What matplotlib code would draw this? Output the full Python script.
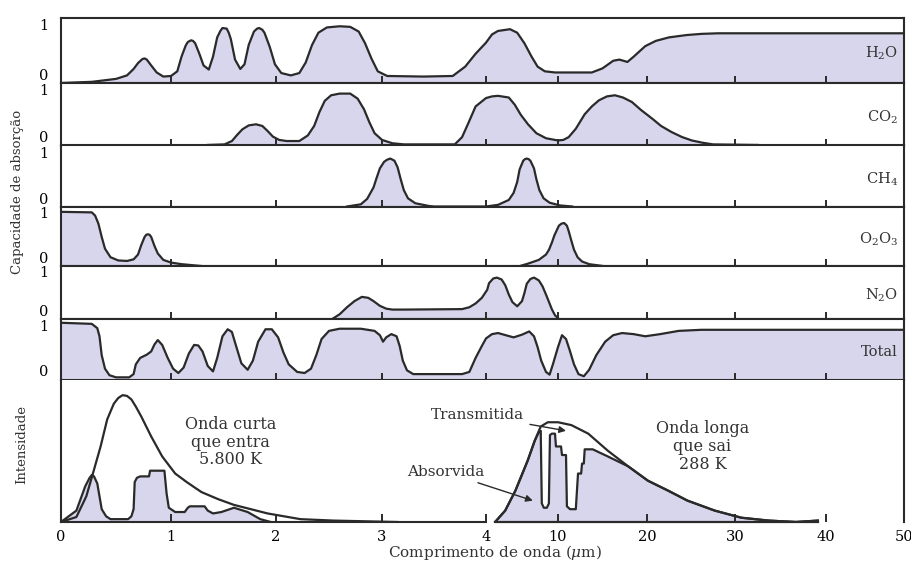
import numpy as np
import matplotlib
matplotlib.use('Agg')
import matplotlib.pyplot as plt

# ---------------- data (wavelength in micrometres, absorption 0..1) ----------------
h2o_wl = [0.00, 0.28, 0.50, 0.60, 0.66, 0.70, 0.74, 0.76, 0.78, 0.82, 0.87, 0.93, 1.00, 1.06, 1.10, 1.14,
          1.16, 1.19, 1.21, 1.23, 1.27, 1.31, 1.36, 1.40, 1.44, 1.47, 1.49, 1.53, 1.55, 1.57, 1.61, 1.66,
          1.70, 1.74, 1.79, 1.82, 1.84, 1.87, 1.89, 1.94, 1.99, 2.05, 2.14, 2.22, 2.28, 2.34, 2.40,
          2.48, 2.60, 2.70, 2.78, 2.84, 2.90, 2.96, 3.05, 3.40, 3.68, 3.80, 3.90, 4.00, 4.5, 5.0,
          6.0, 6.6, 7.2, 7.8, 8.3, 8.9, 9.75, 13.8, 15.0, 16.2, 16.9, 17.8, 18.5, 19.8, 21.0, 22.5,
          24.5, 26.2, 28.1, 50.0]
h2o_abs = [0.00, 0.02, 0.07, 0.13, 0.24, 0.34, 0.41, 0.42, 0.40, 0.30, 0.18, 0.11, 0.12, 0.20, 0.45, 0.64,
           0.70, 0.73, 0.72, 0.68, 0.50, 0.30, 0.23, 0.45, 0.78, 0.89, 0.94, 0.93, 0.86, 0.75, 0.40, 0.24,
           0.32, 0.65, 0.88, 0.93, 0.94, 0.91, 0.86, 0.62, 0.32, 0.17, 0.13, 0.17, 0.35, 0.65, 0.86,
           0.95, 0.97, 0.96, 0.88, 0.68, 0.42, 0.20, 0.12, 0.11, 0.12, 0.28, 0.50, 0.69, 0.83, 0.89,
           0.92, 0.86, 0.68, 0.45, 0.28, 0.20, 0.18, 0.18, 0.25, 0.38, 0.40, 0.36, 0.45, 0.63, 0.72, 0.78,
           0.82, 0.84, 0.85, 0.85]

co2_wl = [1.35, 1.51, 1.58, 1.63, 1.68, 1.74, 1.81, 1.87, 1.92, 1.97, 2.03, 2.10, 2.22, 2.30, 2.36,
          2.41, 2.46, 2.52, 2.60, 2.70, 2.77, 2.83, 2.88, 2.93, 3.00, 3.10, 3.21, 3.70, 3.77, 3.83,
          3.90, 4.00, 4.5, 5.0, 5.9, 6.4, 6.9, 7.5, 8.2, 9.0, 10.0, 10.6, 11.2, 12.0, 13.0, 13.8,
          14.6, 15.5, 16.4, 17.3, 18.3, 19.3, 20.6, 21.6, 22.8, 24.0, 25.1, 26.3, 27.5, 32.5]
co2_abs = [0.01, 0.02, 0.08, 0.19, 0.29, 0.36, 0.38, 0.35, 0.26, 0.16, 0.10, 0.08, 0.08, 0.18, 0.35,
           0.60, 0.80, 0.90, 0.93, 0.93, 0.84, 0.65, 0.42, 0.22, 0.10, 0.04, 0.02, 0.02, 0.15, 0.40,
           0.70, 0.85, 0.88, 0.89, 0.86, 0.73, 0.55, 0.38, 0.22, 0.13, 0.09, 0.10, 0.15, 0.30, 0.56, 0.70,
           0.81, 0.88, 0.90, 0.86, 0.78, 0.64, 0.48, 0.35, 0.24, 0.15, 0.09, 0.05, 0.02, 0.01]

ch4_wl = [2.67, 2.80, 2.86, 2.92, 2.95, 2.98, 3.02, 3.05, 3.08, 3.12, 3.15, 3.18, 3.21, 3.25, 3.32, 3.45,
          3.50, 4.0, 5.0, 5.9, 6.3, 6.6, 6.8, 7.1, 7.25, 7.4, 7.55, 7.7, 8.0, 8.2, 8.45, 8.8, 9.3,
          10.2, 11.6]
ch4_abs = [0.00, 0.04, 0.14, 0.35, 0.53, 0.70, 0.82, 0.86, 0.88, 0.84, 0.72, 0.50, 0.30, 0.15, 0.06, 0.01,
           0.00, 0.00, 0.03, 0.12, 0.25, 0.45, 0.68, 0.84, 0.87, 0.88, 0.87, 0.84, 0.70, 0.50, 0.30, 0.15,
           0.07, 0.02, 0.00]

o3_wl = [0.00, 0.28, 0.31, 0.34, 0.37, 0.40, 0.45, 0.52, 0.60, 0.66, 0.70, 0.73, 0.76, 0.775, 0.79,
         0.805, 0.82, 0.85, 0.88, 0.93, 1.00, 1.10, 1.32, 6.75, 7.5, 8.4, 9.0, 9.25, 9.5, 9.7, 10.1,
         10.4, 10.7, 11.0, 11.2, 11.5, 11.8, 12.2, 12.7, 13.5, 15.3]
o3_abs = [1.02, 1.01, 0.95, 0.80, 0.55, 0.33, 0.17, 0.11, 0.10, 0.13, 0.22, 0.40, 0.55, 0.59, 0.60,
          0.59, 0.55, 0.38, 0.24, 0.12, 0.07, 0.04, 0.00, 0.00, 0.05, 0.12, 0.22, 0.31, 0.45, 0.58, 0.76,
          0.80, 0.81, 0.76, 0.66, 0.48, 0.31, 0.17, 0.09, 0.04, 0.00]

n2o_wl = [2.53, 2.60, 2.67, 2.74, 2.81, 2.87, 2.92, 2.98, 3.04, 3.10, 3.21, 3.77, 3.84, 3.90, 3.96,
          4.1, 4.25, 4.6, 4.9, 5.3, 5.6, 5.9, 6.2, 6.6, 7.0, 7.2, 7.4, 7.7, 8.0, 8.4, 8.7, 9.0,
          9.25, 9.5, 9.75, 10.1]
n2o_abs = [0.00, 0.10, 0.25, 0.38, 0.47, 0.45, 0.38, 0.28, 0.22, 0.20, 0.20, 0.21, 0.25, 0.33, 0.45,
           0.62, 0.76, 0.86, 0.88, 0.84, 0.72, 0.52, 0.36, 0.27, 0.38, 0.55, 0.75, 0.85, 0.88, 0.82, 0.70, 0.52,
           0.36, 0.20, 0.08, 0.00]

tot_wl = [0.00, 0.28, 0.33, 0.35, 0.37, 0.40, 0.44, 0.50, 0.62, 0.66, 0.68, 0.72, 0.78, 0.82, 0.85,
          0.88, 0.92, 0.97, 1.02, 1.07, 1.12, 1.17, 1.22, 1.26, 1.30, 1.35, 1.40, 1.44, 1.49, 1.54,
          1.58, 1.62, 1.67, 1.73, 1.78, 1.83, 1.90, 1.96, 2.02, 2.07, 2.12, 2.20, 2.27, 2.33, 2.38,
          2.43, 2.50, 2.60, 2.80, 2.93, 2.98, 3.01, 3.04, 3.09, 3.14, 3.17, 3.20, 3.24, 3.30, 3.77,
          3.84, 3.90, 3.96, 4.0, 4.5, 5.0, 6.3, 7.0, 7.6, 8.0, 8.3, 8.6, 9.0, 9.3, 9.6, 10.0, 10.45,
          10.9, 11.3, 11.8, 12.3, 12.9, 13.5, 14.3, 15.3, 16.2, 17.2, 18.5, 19.8, 21.5, 23.6, 26.2, 50.0]
tot_abs = [1.05, 1.03, 0.95, 0.80, 0.45, 0.20, 0.08, 0.04, 0.04, 0.10, 0.28, 0.40, 0.46, 0.52, 0.65,
           0.73, 0.64, 0.40, 0.20, 0.12, 0.22, 0.48, 0.64, 0.63, 0.52, 0.25, 0.15, 0.40, 0.80, 0.93,
           0.88, 0.62, 0.30, 0.18, 0.35, 0.70, 0.93, 0.93, 0.78, 0.50, 0.28, 0.14, 0.12, 0.20, 0.45,
           0.75, 0.90, 0.94, 0.94, 0.90, 0.82, 0.70, 0.78, 0.84, 0.80, 0.62, 0.35, 0.17, 0.10, 0.10,
           0.14, 0.40, 0.62, 0.76, 0.84, 0.86, 0.78, 0.83, 0.89, 0.80, 0.60, 0.35, 0.14, 0.09, 0.30, 0.60, 0.82,
           0.75, 0.55, 0.28, 0.10, 0.06, 0.18, 0.45, 0.70, 0.82, 0.86, 0.84, 0.80, 0.84, 0.90, 0.92, 0.92]

# bottom panel: relative intensity
sun_wl = [0.00, 0.14, 0.23, 0.29, 0.36, 0.42, 0.48, 0.52, 0.56, 0.60, 0.64, 0.68, 0.73, 0.82, 0.92,
          1.04, 1.15, 1.29, 1.45, 1.60, 1.92, 2.23, 2.54, 3.15]
sun_int = [0.00, 0.035, 0.18, 0.34, 0.53, 0.72, 0.83, 0.87, 0.89, 0.885, 0.86, 0.81, 0.74, 0.60, 0.46,
           0.34, 0.28, 0.21, 0.16, 0.12, 0.06, 0.02, 0.01, 0.00]
sun_in_wl = [0.00, 0.14, 0.22, 0.26, 0.28, 0.30, 0.33, 0.37, 0.41, 0.45, 0.61, 0.64, 0.66, 0.67, 0.69,
             0.72, 0.80, 0.81, 0.94, 0.96, 0.98, 1.04, 1.13, 1.16, 1.18, 1.32, 1.35, 1.40, 1.48, 1.60,
             1.73, 1.85, 1.95]
sun_in = [0.00, 0.08, 0.25, 0.31, 0.33, 0.32, 0.27, 0.09, 0.04, 0.02, 0.02, 0.04, 0.09, 0.28, 0.31,
          0.32, 0.32, 0.36, 0.36, 0.20, 0.10, 0.07, 0.07, 0.10, 0.11, 0.11, 0.08, 0.06, 0.07, 0.10,
          0.07, 0.02, 0.00]
earth_wl = [4.76, 5.6, 6.45, 7.47, 8.06, 8.56, 9.15, 10.0, 11.5, 13.4, 15.6, 17.9, 19.0, 20.1, 22.4,
            24.6, 27.7, 30.7, 33.7, 36.7, 39.1]
earth_int = [0.00, 0.08, 0.22, 0.43, 0.57, 0.67, 0.70, 0.70, 0.68, 0.62, 0.50, 0.39, 0.34, 0.29, 0.22,
             0.15, 0.08, 0.03, 0.01, 0.00, 0.01]
earth_in_wl = [4.76, 5.6, 6.45, 7.47, 8.06, 8.4, 8.56, 8.65, 8.82, 9.07, 9.24, 9.33, 9.49, 9.75, 9.83,
               10.34, 10.45, 10.9, 11.0, 11.35, 12.0, 12.25, 12.6, 12.7, 12.9, 13.0, 13.9, 15.6, 17.9,
               19.0, 20.1, 22.4, 24.6, 27.7, 30.7, 33.7, 36.7, 39.1]
earth_in = [0.00, 0.08, 0.22, 0.43, 0.57, 0.63, 0.64, 0.13, 0.10, 0.10, 0.13, 0.61, 0.62, 0.62, 0.53,
            0.53, 0.47, 0.47, 0.11, 0.09, 0.09, 0.34, 0.34, 0.41, 0.41, 0.51, 0.51, 0.46, 0.39,
            0.34, 0.29, 0.22, 0.15, 0.08, 0.03, 0.01, 0.00, 0.01]

gas_labels = [r'H$_2$O', r'CO$_2$', r'CH$_4$', r'O$_2$O$_3$', r'N$_2$O', 'Total']
top_ticks = [1, 2, 3, 4, 10, 20, 30, 40]
bottom_ticks = [0, 1, 2, 3, 4, 10, 20, 30, 40, 50]
bottom_tick_labels = ['0', '1', '2', '3', '4', '10', '20', '30', '40', '50']

# ---------------- style / layout ----------------
plt.rcParams['font.family'] = ['DejaVu Serif']
plt.rcParams['mathtext.fontset'] = 'dejavuserif'

W, H = 912, 562
fig = plt.figure(figsize=(W / 100, H / 100), dpi=100)
fill_c = '#d8d6ec'
line_c = '#2a2a2a'

# broken wavelength axis: 0-4 um linear, 4-50 um compressed
knots_um = np.array([0, 1, 2, 3, 4, 10, 20, 30, 40, 50], float)
knots_px = np.array([61, 171, 276, 382, 486, 558, 647, 735, 826, 904], float)


def fwd(x):
    return np.interp(x, knots_um, knots_px)


def inv(u):
    return np.interp(u, knots_px, knots_um)


panel_edges = [(17.5, 83), (83, 145.5), (145.5, 206.5), (206.5, 266.3),
               (266.3, 319), (319, 379.5), (379.5, 522)]
x0, x1 = 61, 904
axes = []
for (t, b) in panel_edges:
    ax = fig.add_axes([x0 / W, 1 - b / H, (x1 - x0) / W, (b - t) / H])
    ax.set_xscale('function', functions=(fwd, inv))
    ax.set_xlim(0, 50)
    for s in ax.spines.values():
        s.set_linewidth(1.5)
        s.set_color(line_c)
    axes.append(ax)

gases = [(h2o_wl, h2o_abs), (co2_wl, co2_abs), (ch4_wl, ch4_abs),
         (o3_wl, o3_abs), (n2o_wl, n2o_abs), (tot_wl, tot_abs)]
for ax, (wl, ab), lab in zip(axes[:6], gases, gas_labels):
    ax.fill_between(wl, 0, ab, color=fill_c, lw=0)
    ax.plot(wl, ab, color=line_c, lw=1.6, solid_joinstyle='round')
    ax.set_ylim(0, 1.12)
    ax.set_yticks([0, 1])
    ax.set_yticklabels(['0', '1'])
    ax.tick_params(axis='y', length=0, pad=9, labelsize=10.5)
    ax.get_yticklabels()[0].set_va('bottom')
    ax.set_xticks(top_ticks)
    ax.tick_params(axis='x', direction='in', length=5, width=1.4, color=line_c,
                   labelbottom=False)
    ax.text(0.993, 0.45, lab, transform=ax.transAxes, ha='right', va='center',
            fontsize=10.5, color='#333333')

# ---------------- bottom intensity panel ----------------
axb = axes[6]
axb.fill_between(sun_in_wl, 0, sun_in, color=fill_c, lw=0)
axb.plot(sun_in_wl, sun_in, color=line_c, lw=1.6, solid_joinstyle='round')
axb.plot(sun_wl, sun_int, color=line_c, lw=1.6, solid_joinstyle='round')
axb.fill_between(earth_in_wl, 0, earth_in, color=fill_c, lw=0)
axb.plot(earth_in_wl, earth_in, color=line_c, lw=1.6, solid_joinstyle='round')
axb.plot(earth_wl, earth_int, color=line_c, lw=1.6, solid_joinstyle='round')
axb.plot([earth_wl[0], earth_wl[-1]], [0, 0], color=line_c, lw=1.6, clip_on=False)
axb.set_ylim(0, 1.0)
axb.spines['top'].set_visible(False)
axb.spines['bottom'].set_bounds(0, 4)
axb.set_yticks([])
axb.set_xticks(bottom_ticks)
axb.set_xticklabels(bottom_tick_labels)
axb.tick_params(axis='x', direction='in', length=6, width=1.4, color=line_c,
                pad=6, labelsize=10.5)

axb.text(1.57, 0.56, 'Onda curta\nque entra\n5.800 K', ha='center', va='center',
         fontsize=11.5, linespacing=1.05, color='#333333')
axb.text(26.3, 0.53, 'Onda longa\nque sai\n288 K', ha='center', va='center',
         fontsize=11.5, linespacing=1.05, color='#333333')
axb.annotate('Transmitida', xy=(10.9, 0.64), xytext=(7.2, 0.75), ha='right', va='center',
             fontsize=11, color='#333333',
             arrowprops=dict(arrowstyle='-|>', color=line_c, lw=1.0, shrinkA=2, shrinkB=0,
                             mutation_scale=10))
axb.annotate('Absorvida', xy=(7.9, 0.15), xytext=(3.98, 0.35), ha='right', va='center',
             fontsize=11, color='#333333',
             arrowprops=dict(arrowstyle='-|>', color=line_c, lw=1.0, shrinkA=2, shrinkB=0,
                             mutation_scale=10))

fig.text(18 / W, 1 - 192 / H, 'Capacidade de absorção', rotation=90, ha='center',
         va='center', fontsize=9.5, color='#333333')
fig.text(22 / W, 1 - 445 / H, 'Intensidade', rotation=90, ha='center', va='center',
         fontsize=9.5, color='#333333')
fig.text(495 / W, 1 - 553 / H, r'Comprimento de onda ($\mu$m)', ha='center', va='center',
         fontsize=11, color='#333333')

fig.savefig('out.png', dpi=100)
